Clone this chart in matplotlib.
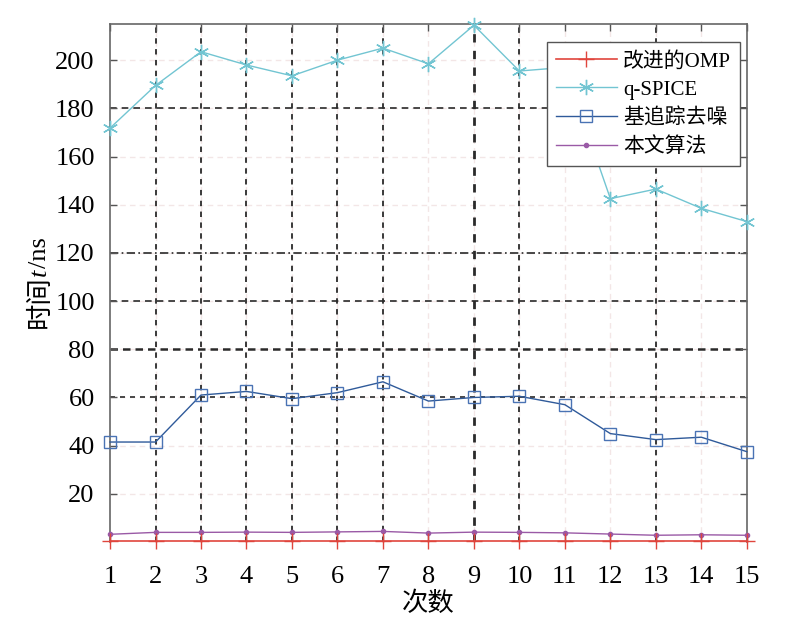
import numpy as np
import matplotlib
matplotlib.use('Agg')
import matplotlib.pyplot as plt

plt.rcParams['font.family'] = ['Liberation Serif', 'Noto Sans CJK SC']

# data
runs = np.arange(1, 16)
omp = [0.3] * 15
qspice = [171.8, 189.5, 203.5, 198, 193.5, 200, 205, 198.5, 214.5, 195.5, 197, 142.5, 146.5, 138.5, 133]
basis = [41.5, 41.5, 61, 62.5, 59.5, 62, 66.5, 58.5, 60, 60.5, 57, 45, 42.5, 43.5, 37.5]
ours = [3.2, 4.0, 4.0, 4.1, 4.0, 4.2, 4.4, 3.7, 4.1, 4.0, 3.8, 3.3, 2.8, 3.0, 2.8]

names = ['改进的OMP', 'q-SPICE', '基追踪去噪', '本文算法']
yticks = [20, 40, 60, 80, 100, 120, 140, 160, 180, 200]

# grid lines that came out dark in the scan
dark_x = [2, 3, 4, 5, 6, 7, 9, 10, 13]
dark_y = {180: (0, (4, 3)), 120: (0, (5, 2, 1, 2)), 100: (0, (4, 3)), 80: (0, (3, 2)), 60: (0, (3, 3))}

fig = plt.figure(figsize=(7.99, 6.29), dpi=100)
ax = fig.add_axes([0.1377, 0.1383, 0.797, 0.8235])

# faint grid
for x in runs[1:-1]:
    ax.axvline(x, color='#f3e6e6', lw=1.0, ls=(0, (4, 3)), zorder=0)
for y in yticks:
    ax.axhline(y, color='#f3e6e6', lw=1.0, ls=(0, (4, 3)), zorder=0)
# dark grid
for x in dark_x:
    lw = 2.0 if x == 9 else 1.3
    ax.axvline(x, color='#2a2a2a', lw=lw, ls=(0, (3, 3)), zorder=0.5)
for y, ls in dark_y.items():
    lw = 1.8 if y == 80 else 1.2
    ax.axhline(y, color='#2a2a2a', lw=lw, ls=ls, zorder=0.5)

ax.plot(runs, omp, color='#e0453d', lw=1.2, marker='+', ms=11, mew=1.0, clip_on=False, zorder=5, label=names[0])
ax.plot(runs, qspice, color='#72c5d2', lw=1.0, marker=(6, 2, 0), ms=11, mew=1.0, clip_on=False, zorder=4, label=names[1])
ax.plot(runs, basis, color='#2f5a9a', lw=1.0, marker='s', ms=9, mfc='none', mec='#4a73b4', mew=1.0, clip_on=False, zorder=4, label=names[2])
ax.plot(runs, ours, color='#9a5aa6', lw=1.0, marker='.', ms=6, clip_on=False, zorder=4, label=names[3])

ax.set_xlim(1, 15)
ax.set_ylim(0, 215)
ax.set_xticks(runs)
ax.set_yticks(yticks)
ax.tick_params(direction='in', length=5, width=1.0, color='#555555', labelsize=19,
               top=True, right=True)
ax.tick_params(axis='x', pad=17)
ax.tick_params(axis='y', pad=11)
for side in ['left', 'right', 'top']:
    ax.spines[side].set_color('#666666')
    ax.spines[side].set_linewidth(1.2)
ax.spines['bottom'].set_visible(False)

ax.set_xlabel('次数', fontsize=19, labelpad=3)

leg = ax.legend(loc='upper left', bbox_to_anchor=(0.686, 0.965), fontsize=15,
                handlelength=2.9, handletextpad=0.3, borderpad=0.45, labelspacing=0.42,
                fancybox=False, framealpha=1, edgecolor='#555555', borderaxespad=0)
leg.get_frame().set_linewidth(1.0)

# y label "时间t/ns" with an italic t, built from pieces (rotated, in pixels)
fig.canvas.draw()
r = fig.canvas.get_renderer()
ylab_x = 40
pieces = [('时间', 'normal'), ('t', 'italic'), ('/ns', 'normal')]
texts = []
for s, style in pieces:
    texts.append(fig.text(0, 0, s, fontsize=19, style=style, rotation=90,
                          ha='center', va='bottom', transform=None))
heights = [t.get_window_extent(r).height for t in texts]
y0 = 629 - 283 - sum(heights) / 2
for t, h in zip(texts, heights):
    t.set_position((ylab_x, y0))
    y0 += h

fig.savefig('out.png', dpi=100)
